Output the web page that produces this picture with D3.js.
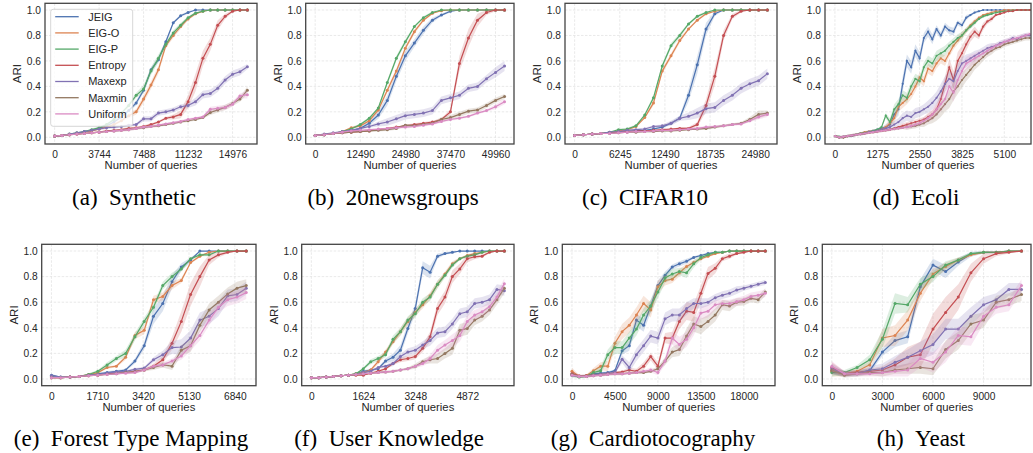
<!DOCTYPE html>
<html>
<head>
<meta charset="utf-8">
<script src="https://cdn.jsdelivr.net/npm/d3@7"></script>
<style>
  body { margin: 0; background: #fff; }
  svg { display: block; }
</style>
</head>
<body>
<svg id="fig" width="1033" height="453"></svg>
<script>
// ---- series shared by every panel ----
const seriesNames = ["JEIG", "EIG-O", "EIG-P", "Entropy", "Maxexp", "Maxmin", "Uniform"];
const seriesColors = ["#4C72B0", "#DD8452", "#55A868", "#C44E52", "#8172B3", "#937860", "#DA8BC3"];
const yTicks = [0, 0.2, 0.4, 0.6, 0.8, 1.0];

// ---- (a) Synthetic ----
const synthStep = 624;
const synthTicks = [0, 3744, 7488, 11232, 14976];
const synthMean = [
  [.01,.015,.02,.03,.045,.055,.07,.09,.12,.16,.21,.27,.37,.53,.61,.75,.90,.955,.98,1,1,1,1,1,1,1,1],
  [.01,.015,.02,.03,.04,.05,.065,.08,.10,.13,.17,.20,.30,.41,.53,.72,.80,.87,.93,.97,.99,1,1,1,1,1,1],
  [.01,.015,.025,.035,.045,.06,.075,.10,.14,.19,.25,.33,.38,.52,.62,.73,.82,.88,.94,.975,.99,1,1,1,1,1,1],
  [.01,.015,.02,.025,.03,.035,.04,.05,.055,.06,.07,.075,.085,.10,.12,.15,.16,.18,.28,.43,.62,.73,.88,.95,.99,1,1],
  [.01,.015,.025,.035,.045,.055,.065,.075,.08,.085,.095,.10,.145,.145,.19,.20,.215,.24,.25,.28,.335,.345,.385,.45,.495,.515,.555],
  [.01,.015,.02,.025,.03,.035,.04,.045,.05,.055,.06,.07,.075,.085,.09,.10,.11,.12,.13,.14,.155,.195,.215,.235,.265,.30,.37],
  [.01,.015,.02,.025,.03,.035,.04,.045,.05,.055,.06,.07,.08,.085,.095,.105,.115,.125,.14,.15,.16,.22,.228,.235,.26,.325,.335]
];
// confidence half-widths, in hundredths of ARI
const synthBand = [
  [0,0,0,0,0,1,1,1,1,1,1,2,2,2,2,2,1,1,1,0,0,0,0,0,0,0,0],
  [0,0,0,0,0,1,1,1,1,1,2,2,3,3,3,2,2,2,1,1,0,0,0,0,0,0,0],
  [0,0,0,0,0,1,1,1,1,1,2,2,3,3,3,2,2,2,1,1,0,0,0,0,0,0,0],
  [0,0,0,0,0,0,0,0,0,1,1,1,1,1,1,1,2,3,5,7,6,5,4,2,1,0,0],
  [0,0,0,0,0,0,1,1,1,1,1,1,2,2,2,2,2,2,2,3,3,3,3,3,3,3,2],
  [0,0,0,0,0,0,0,0,1,1,1,1,1,1,1,1,1,1,1,1,1,2,2,2,2,2,3],
  [0,0,0,0,0,0,0,0,1,1,1,1,1,1,1,1,1,1,1,1,1,2,2,2,2,2,3]
];

// ---- (b) 20newsgroups ----
const newsStep = 2498;
const newsTicks = [0, 12490, 24980, 37470, 49960];
const newsMean = [
  [.015,.02,.03,.04,.05,.07,.11,.175,.29,.48,.64,.74,.84,.92,.96,.99,1,1,1,1,1,1],
  [.015,.02,.03,.045,.075,.09,.13,.215,.37,.52,.70,.83,.92,.975,.995,1,1,1,1,1,1,1],
  [.015,.02,.03,.045,.065,.10,.15,.23,.43,.62,.75,.87,.94,.98,1,1,1,1,1,1,1,1],
  [.015,.02,.03,.035,.04,.045,.05,.06,.07,.08,.09,.10,.11,.12,.14,.20,.58,.78,.92,.98,1,1],
  [.015,.025,.035,.045,.055,.07,.085,.105,.12,.145,.17,.18,.19,.21,.29,.31,.33,.385,.40,.46,.51,.56],
  [.015,.02,.03,.035,.04,.045,.05,.055,.06,.07,.095,.09,.10,.11,.14,.155,.18,.205,.215,.25,.29,.32],
  [.015,.02,.03,.04,.05,.055,.06,.065,.07,.075,.08,.085,.095,.105,.125,.14,.15,.165,.19,.21,.24,.28]
];
const newsBand = [
  [0,0,0,0,1,1,2,3,4,4,4,3,3,2,1,1,0,0,0,0,0,0],
  [0,0,0,0,1,1,1,2,2,2,2,2,1,1,0,0,0,0,0,0,0,0],
  [0,0,0,0,1,1,1,1,2,2,2,1,1,1,0,0,0,0,0,0,0,0],
  [0,0,0,0,0,0,0,0,0,0,1,1,1,1,1,2,6,7,5,2,1,0],
  [0,0,0,0,0,1,1,2,3,3,3,3,3,3,3,3,3,3,3,3,4,4],
  [0,0,0,0,0,0,0,1,1,1,1,1,1,1,2,2,2,2,2,2,2,2],
  [0,0,0,0,0,0,0,0,1,1,1,1,1,1,1,1,1,1,1,1,2,2]
];

// ---- (c) CIFAR10 ----
const cifarStep = 1212;
const cifarTicks = [0, 6245, 12490, 18735, 24980];
const cifarMean = [
  [.015,.02,.025,.03,.035,.04,.045,.05,.055,.065,.08,.11,.15,.33,.57,.85,.97,1,1,1,1,1,1],
  [.015,.02,.025,.03,.035,.05,.06,.085,.155,.27,.52,.64,.76,.85,.92,.97,.99,1,1,1,1,1,1],
  [.015,.02,.025,.03,.04,.06,.065,.09,.175,.31,.56,.72,.80,.89,.95,.98,1,1,1,1,1,1,1],
  [.015,.02,.025,.03,.035,.04,.045,.05,.05,.055,.06,.065,.07,.07,.10,.25,.48,.80,.95,.99,1,1,1],
  [.015,.02,.025,.03,.04,.045,.055,.06,.065,.085,.09,.11,.15,.165,.19,.225,.235,.29,.33,.385,.42,.445,.50],
  [.015,.02,.025,.03,.03,.035,.04,.04,.045,.045,.05,.05,.055,.06,.065,.07,.08,.09,.10,.11,.14,.18,.19],
  [.015,.02,.025,.03,.03,.035,.04,.045,.045,.05,.055,.055,.06,.065,.07,.08,.085,.09,.10,.105,.13,.16,.18]
];
const cifarBand = [
  [0,0,0,0,0,0,0,0,0,1,1,1,2,5,7,5,2,0,0,0,0,0,0],
  [0,0,0,0,0,0,1,1,1,2,2,2,2,1,1,1,0,0,0,0,0,0,0],
  [0,0,0,0,0,0,1,1,1,2,2,2,2,1,1,1,0,0,0,0,0,0,0],
  [0,0,0,0,0,0,0,0,0,0,0,0,1,1,2,5,7,4,2,1,0,0,0],
  [0,0,0,0,0,0,1,1,1,1,1,2,2,3,4,4,4,4,4,4,4,4,4],
  [0,0,0,0,0,0,0,0,0,0,0,0,0,0,1,1,1,1,1,1,2,3,2],
  [0,0,0,0,0,0,0,0,0,0,0,0,0,1,1,1,1,1,1,1,1,2,2]
];

// ---- (d) Ecoli ----
const ecoliStep = 127.5;
const ecoliTicks = [0, 1275, 2550, 3825, 5100];
const ecoliMean = [
  [.01,0,0,.01,.01,.02,.03,.035,.045,.05,.06,.07,.08,.10,.18,.22,.42,.60,.55,.68,.62,.78,.83,.77,.85,.80,.87,.84,.83,.90,.88,.94,.96,.98,.99,1,1,1,1,1,1,1,1,1,1,1,1],
  [.01,0,0,.01,.015,.02,.03,.04,.045,.05,.055,.06,.08,.11,.15,.24,.27,.30,.34,.40,.47,.44,.54,.52,.58,.62,.60,.66,.72,.76,.80,.84,.88,.91,.94,.96,.97,.98,.99,.99,1,1,1,1,1,1,1],
  [.01,.005,0,.01,.015,.02,.03,.035,.04,.05,.06,.08,.17,.12,.22,.26,.33,.31,.40,.46,.44,.55,.60,.58,.64,.66,.68,.72,.75,.78,.80,.84,.87,.90,.93,.95,.96,.97,.98,.985,.99,.99,.995,1,1,1,1],
  [.01,0,0,.01,.015,.02,.025,.03,.035,.04,.045,.05,.055,.06,.07,.08,.09,.10,.11,.12,.13,.14,.16,.18,.22,.30,.42,.55,.45,.60,.66,.73,.79,.83,.80,.87,.91,.93,.96,.97,.98,.99,.99,1,1,1,1],
  [.01,0,.005,.01,.015,.02,.025,.03,.04,.045,.05,.06,.07,.08,.10,.12,.15,.17,.16,.19,.20,.22,.24,.27,.31,.36,.42,.46,.44,.52,.58,.60,.62,.64,.66,.68,.70,.71,.72,.74,.75,.76,.78,.77,.79,.80,.80],
  [.01,0,.005,.01,.015,.02,.025,.03,.035,.04,.045,.05,.055,.06,.065,.07,.075,.08,.085,.09,.10,.11,.13,.15,.18,.22,.26,.30,.36,.40,.45,.49,.53,.57,.60,.63,.66,.68,.70,.71,.73,.74,.75,.76,.77,.78,.78],
  [.01,0,.005,.01,.015,.02,.025,.03,.035,.04,.045,.05,.055,.06,.065,.07,.075,.08,.09,.10,.11,.13,.15,.18,.22,.26,.30,.40,.35,.45,.52,.58,.60,.62,.64,.66,.68,.70,.72,.73,.75,.76,.77,.78,.79,.80,.81]
];
const ecoliBand = [
  [1,1,1,1,1,1,1,1,1,1,1,1,2,3,4,5,6,5,5,5,5,4,4,4,3,3,3,3,3,2,2,2,1,1,1,0,0,0,0,0,0,0,0,0,0,0,0],
  [1,1,1,1,1,1,1,1,1,1,1,1,2,3,4,4,4,4,4,4,4,4,4,4,4,4,4,3,3,3,3,2,2,2,1,1,1,1,0,0,0,0,0,0,0,0,0],
  [1,1,1,1,1,1,1,1,1,1,1,1,2,3,4,4,4,4,4,4,4,4,4,4,4,4,4,3,3,3,3,2,2,2,1,1,1,1,0,0,0,0,0,0,0,0,0],
  [1,1,1,1,1,1,1,1,1,1,1,1,1,1,1,1,2,2,2,2,2,2,3,3,4,5,6,7,7,7,6,5,4,4,3,3,2,2,1,1,1,0,0,0,0,0,0],
  [1,1,1,1,1,1,1,1,1,1,1,1,1,2,3,3,4,4,4,4,4,4,5,5,5,6,6,6,6,6,5,5,4,4,3,3,3,3,2,2,2,2,2,2,2,2,2],
  [1,1,1,1,1,1,1,1,1,1,1,1,1,1,1,1,1,2,2,2,2,3,3,4,5,6,6,7,7,6,6,5,5,4,4,3,3,3,2,2,2,2,2,2,2,2,2],
  [1,1,1,1,1,1,1,1,1,1,1,1,1,1,1,1,1,2,2,2,2,3,3,4,5,6,6,7,7,6,6,5,5,4,4,3,3,3,2,2,2,2,2,2,2,2,2]
];

// ---- (e) Forest Type Mapping ----
const forestStep = 346;
const forestTicks = [0, 1710, 3420, 5130, 6840];
const forestMean = [
  [.03,.015,.015,.02,.03,.04,.05,.06,.07,.14,.26,.49,.59,.76,.875,.93,1,1,1,1,1,1],
  [.01,.01,.015,.02,.035,.05,.09,.10,.17,.34,.38,.62,.645,.73,.77,.91,.96,.99,1,1,1,1],
  [.02,.01,.015,.02,.035,.06,.11,.16,.20,.33,.45,.56,.73,.80,.86,.94,.97,.97,1,1,1,1],
  [.01,.01,.015,.02,.025,.03,.04,.045,.05,.06,.07,.10,.15,.28,.45,.66,.80,.93,.97,.99,1,1],
  [.025,.015,.015,.02,.03,.035,.045,.055,.06,.075,.085,.15,.19,.245,.25,.32,.46,.49,.55,.65,.66,.71],
  [.01,.01,.015,.02,.025,.03,.035,.04,.05,.055,.07,.09,.11,.10,.225,.26,.42,.54,.60,.665,.71,.73],
  [.01,.01,.015,.02,.025,.03,.035,.04,.045,.05,.07,.10,.11,.14,.18,.26,.34,.46,.56,.62,.64,.675]
];
const forestBand = [
  [1,0,0,0,0,1,1,1,1,2,3,6,6,5,3,2,0,0,0,0,0,0],
  [0,0,0,0,1,1,1,1,2,3,3,3,3,3,2,1,1,0,0,0,0,0],
  [0,0,0,0,1,1,2,2,3,3,3,3,3,3,2,1,1,1,0,0,0,0],
  [0,0,0,0,0,0,0,0,0,1,1,2,3,5,8,9,8,4,2,1,0,0],
  [1,0,0,0,0,0,1,1,1,1,1,2,3,5,6,6,6,6,6,5,5,5],
  [0,0,0,0,0,0,0,0,1,1,1,2,2,3,4,5,5,5,5,5,5,5],
  [0,0,0,0,0,0,0,0,1,1,1,1,2,2,3,4,4,4,4,5,5,5]
];

// ---- (f) User Knowledge ----
const knowStep = 232;
const knowTicks = [0, 1624, 3248, 4872];
const knowMean = [
  [.01,.01,.015,.02,.025,.03,.04,.06,.07,.08,.14,.17,.225,.395,.55,.87,.835,.96,.98,.99,1,1,1,1,1,1,1],
  [.01,.01,.015,.02,.025,.03,.04,.05,.07,.135,.21,.29,.37,.45,.52,.58,.65,.74,.82,.90,.94,.965,.98,.99,1,1,1],
  [.01,.01,.015,.02,.025,.03,.04,.08,.135,.16,.19,.31,.37,.46,.51,.60,.64,.74,.81,.89,.94,.96,.97,.99,1,1,1],
  [.01,.01,.015,.02,.025,.03,.03,.03,.045,.06,.08,.12,.15,.16,.175,.24,.33,.55,.64,.80,.86,.94,.955,.96,.99,1,1],
  [.01,.01,.015,.02,.025,.03,.035,.05,.06,.09,.10,.12,.175,.21,.225,.265,.30,.36,.37,.43,.51,.525,.59,.60,.62,.70,.69],
  [.01,.01,.015,.02,.025,.03,.035,.04,.045,.05,.055,.06,.07,.08,.10,.135,.15,.16,.20,.24,.38,.395,.46,.49,.54,.62,.71],
  [.01,.01,.015,.02,.025,.03,.035,.04,.045,.05,.055,.06,.07,.08,.10,.12,.16,.225,.265,.30,.34,.45,.50,.525,.565,.64,.745]
];
const knowBand = [
  [0,0,0,0,0,0,0,1,1,1,2,3,4,4,4,5,5,2,1,1,0,0,0,0,0,0,0],
  [0,0,0,0,0,0,0,1,1,2,2,2,3,3,3,3,3,3,2,2,1,1,1,0,0,0,0],
  [0,0,0,0,0,0,0,1,2,2,2,3,3,3,3,3,3,3,2,2,1,1,1,0,0,0,0],
  [0,0,0,0,0,0,0,0,1,1,1,1,2,2,2,3,4,5,5,5,4,3,2,1,1,0,0],
  [0,0,0,0,0,0,0,1,1,1,1,2,2,3,3,3,4,4,4,4,4,4,4,4,4,4,4],
  [0,0,0,0,0,0,0,0,0,1,1,1,1,1,2,2,3,4,4,5,5,5,4,4,4,4,4],
  [0,0,0,0,0,0,0,0,0,1,1,1,1,1,1,2,3,4,4,5,5,5,4,4,4,4,4]
];

// ---- (g) Cardiotocography ----
const cardioStep = 750;
const cardioTicks = [0, 4500, 9000, 13500, 18000];
const cardioMean = [
  [.04,.02,.025,.04,.045,.05,.065,.22,.26,.46,.42,.57,.73,.81,.875,.90,.92,.95,.965,.98,.99,.99,1,1,1,1,1,1],
  [.06,.02,.025,.065,.10,.10,.28,.37,.42,.50,.59,.54,.72,.77,.78,.83,.88,.91,.94,.96,.98,.99,1,1,1,1,1,1],
  [.03,.015,.02,.05,.065,.19,.245,.245,.32,.39,.50,.57,.68,.79,.82,.84,.83,.90,.95,.97,.99,.99,1,1,1,1,1,1],
  [.04,.025,.025,.03,.035,.04,.05,.055,.07,.06,.10,.175,.10,.32,.32,.45,.53,.52,.67,.825,.865,.94,.96,.98,.99,1,1,1],
  [.03,.02,.02,.03,.035,.04,.05,.155,.09,.19,.26,.335,.32,.47,.50,.50,.55,.59,.59,.60,.635,.655,.67,.695,.71,.725,.74,.755],
  [.035,.02,.02,.025,.03,.035,.04,.04,.045,.05,.05,.06,.08,.14,.21,.23,.335,.43,.41,.45,.50,.58,.57,.60,.605,.63,.62,.68],
  [.03,.02,.02,.025,.03,.035,.04,.04,.045,.05,.06,.07,.05,.14,.32,.27,.31,.40,.515,.53,.58,.59,.59,.605,.62,.645,.655,.67]
];
const cardioBand = [
  [2,1,1,1,1,1,1,3,4,5,5,5,4,3,2,2,2,1,1,1,0,0,0,0,0,0,0,0],
  [3,1,1,2,3,4,5,6,6,6,6,6,5,4,3,3,2,2,1,1,1,0,0,0,0,0,0,0],
  [2,1,1,2,3,4,5,5,5,5,5,5,5,4,4,3,4,3,2,1,1,0,0,0,0,0,0,0],
  [2,1,1,1,1,1,1,1,2,2,3,3,3,4,5,6,7,7,6,5,4,2,2,1,1,0,0,0],
  [1,1,1,1,1,1,1,3,4,5,5,5,5,5,5,5,5,4,4,3,3,3,3,3,2,2,2,2],
  [1,1,1,1,1,1,1,1,1,1,1,1,2,3,4,5,6,6,6,5,5,4,4,3,3,3,3,3],
  [1,1,1,1,1,1,1,1,1,1,1,2,2,3,5,6,6,6,5,5,4,3,3,3,3,3,3,3]
];

// ---- (h) Yeast ----
const yeastStep = 750;
const yeastTicks = [0, 3000, 6000, 9000];
const yeastMean = [
  [.065,.04,.05,.065,.21,.30,.33,.72,.89,.84,.915,.975,.99,.99,1,1],
  [.06,.04,.06,.11,.32,.34,.46,.67,.82,.88,.93,.97,.99,.99,1,1],
  [.05,.05,.09,.15,.31,.59,.58,.74,.80,.89,.93,.98,.99,.99,1,1],
  [.09,.04,.05,.06,.07,.11,.17,.19,.39,.52,.64,.83,.94,.98,.99,1],
  [.08,.04,.04,.07,.08,.13,.17,.22,.27,.39,.39,.49,.58,.62,.70,.70],
  [.07,.03,.04,.05,.05,.07,.08,.09,.08,.23,.30,.43,.46,.60,.62,.66],
  [.10,.04,.04,.04,.05,.06,.07,.16,.13,.21,.34,.33,.49,.56,.58,.73]
];
const yeastBand = [
  [3,2,2,2,3,5,5,6,5,5,3,2,1,1,0,0],
  [4,2,2,3,7,8,8,6,4,3,2,1,1,0,0,0],
  [3,2,2,4,7,8,6,5,4,3,2,1,1,0,0,0],
  [4,2,2,2,3,5,8,10,12,12,10,7,4,2,1,0],
  [4,2,2,3,4,5,6,7,8,8,8,7,6,5,5,5],
  [3,2,2,2,3,3,4,5,5,7,7,7,6,5,5,5],
  [4,2,2,2,3,4,5,7,8,8,7,7,6,5,5,5]
];

// ---- layout of the eight subplots ----
const panels = [
  { tag: "(a)", name: "Synthetic",          step: synthStep,  ticks: synthTicks,  mean: synthMean,  band: synthBand,  box: [45, 257, 3.3, 144],         cap: 134, legend: true },
  { tag: "(b)", name: "20newsgroups",       step: newsStep,   ticks: newsTicks,   mean: newsMean,   band: newsBand,   box: [305.7, 514, 3.3, 144],      cap: 393 },
  { tag: "(c)", name: "CIFAR10",            step: cifarStep,  ticks: cifarTicks,  mean: cifarMean,  band: cifarBand,  box: [565, 777, 3.3, 144],        cap: 645 },
  { tag: "(d)", name: "Ecoli",              step: ecoliStep,  ticks: ecoliTicks,  mean: ecoliMean,  band: ecoliBand,  box: [825, 1031, 3.3, 144],       cap: 916, pad: [0.051, 0.0066], dot: 1.1 },
  { tag: "(e)", name: "Forest Type Mapping", step: forestStep, ticks: forestTicks, mean: forestMean, band: forestBand, box: [41.7, 256, 244.3, 385.7],  cap: 131 },
  { tag: "(f)", name: "User Knowledge",     step: knowStep,   ticks: knowTicks,   mean: knowMean,   band: knowBand,   box: [301.7, 514, 244.3, 385.7],  cap: 389 },
  { tag: "(g)", name: "Cardiotocography",   step: cardioStep, ticks: cardioTicks, mean: cardioMean, band: cardioBand, box: [562.3, 775, 244.3, 385.7],  cap: 653 },
  { tag: "(h)", name: "Yeast",              step: yeastStep,  ticks: yeastTicks,  mean: yeastMean,  band: yeastBand,  box: [822.3, 1031, 244.3, 385.7], cap: 921 }
];

// sanity check of array lengths
panels.forEach(p => {
  const n = p.mean[0].length;
  p.mean.forEach((m, s) => { if (m.length !== n || p.band[s].length !== n) throw new Error(p.name + " series " + s + " length " + m.length + "/" + p.band[s].length + " vs " + n); });
});

const svg = d3.select("#fig");
svg.append("rect").attr("width", 1033).attr("height", 453).attr("fill", "#fff");

const sansFont = "'Liberation Sans', Arial, sans-serif";
const serifFont = "'Liberation Serif', 'Times New Roman', serif";
const textColor = "#262626";

function drawPanel(p) {
  const [L, R, T, B] = p.box;
  const pad = p.pad || [0.05, 0.05];
  const n = p.mean[0].length;
  const xs = d3.range(n).map(i => i * p.step);
  const xEnd = xs[n - 1];
  const x = d3.scaleLinear().domain([-pad[0] * xEnd, (1 + pad[1]) * xEnd]).range([L, R]);
  const y = d3.scaleLinear().domain([-0.0526, 1.0526]).range([B, T]);
  const g = svg.append("g");

  // grid
  g.append("g").selectAll("line").data(yTicks).join("line")
    .attr("x1", L).attr("x2", R).attr("y1", d => y(d)).attr("y2", d => y(d))
    .attr("stroke", "#e3e3e3").attr("stroke-width", 0.8).attr("stroke-dasharray", "2.5,1.5");
  g.append("g").selectAll("line").data(p.ticks).join("line")
    .attr("y1", T).attr("y2", B).attr("x1", d => x(d)).attr("x2", d => x(d))
    .attr("stroke", "#e3e3e3").attr("stroke-width", 0.8).attr("stroke-dasharray", "2.5,1.5");

  // series: band, line, markers
  const area = d3.area().x(d => x(d.x)).y0(d => y(d.lo)).y1(d => y(d.hi));
  const line = d3.line().x(d => x(d.x)).y(d => y(d.m));
  seriesNames.forEach((name, s) => {
    const pts = xs.map((xv, i) => {
      const m = p.mean[s][i], h = p.band[s][i] / 100;
      return { x: xv, m: m, lo: m - h, hi: Math.min(1, m + h) };
    });
    const col = seriesColors[s];
    g.append("path").datum(pts).attr("d", area).attr("fill", col).attr("fill-opacity", 0.2);
    g.append("path").datum(pts).attr("d", line).attr("fill", "none")
      .attr("stroke", col).attr("stroke-width", 1.2);
    g.append("g").selectAll("circle").data(pts).join("circle")
      .attr("cx", d => x(d.x)).attr("cy", d => y(d.m)).attr("r", p.dot || 1.5)
      .attr("fill", col);
  });

  // axes
  const xAxis = g.append("g").attr("transform", `translate(0,${B})`)
    .call(d3.axisBottom(x).tickValues(p.ticks).tickFormat(d3.format("d")).tickSize(0).tickPadding(7));
  const yAxis = g.append("g").attr("transform", `translate(${L},0)`)
    .call(d3.axisLeft(y).tickValues(yTicks).tickFormat(d3.format(".1f")).tickSize(0).tickPadding(4));
  [xAxis, yAxis].forEach(a => {
    a.select(".domain").remove();
    a.selectAll("text").attr("font-family", sansFont).attr("font-size", 10.2).attr("fill", textColor);
  });

  // frame
  g.append("rect").attr("x", L).attr("y", T).attr("width", R - L).attr("height", B - T)
    .attr("fill", "none").attr("stroke", "#444").attr("stroke-width", 1.3);

  // axis labels
  g.append("text").attr("x", (L + R) / 2).attr("y", B + 25).attr("text-anchor", "middle")
    .attr("font-family", sansFont).attr("font-size", 11.3).attr("fill", textColor).text("Number of queries");
  g.append("text").attr("transform", `translate(${L - 24},${(T + B) / 2}) rotate(-90)`)
    .attr("text-anchor", "middle").attr("font-family", sansFont).attr("font-size", 11.5)
    .attr("fill", textColor).text("ARI");

  // caption: tag, a wide space, then the dataset name
  svg.append("text").attr("x", p.cap).attr("y", B + 60.5).attr("text-anchor", "middle")
    .attr("font-family", serifFont).attr("font-size", 23).attr("fill", "#000")
    .text(p.tag + "\u2002" + p.name);

  // legend
  if (p.legend) {
    const lx = L + 5.7, ly = T + 6, lw = 82, lh = 117;
    const lg = g.append("g");
    lg.append("rect").attr("x", lx).attr("y", ly).attr("width", lw).attr("height", lh)
      .attr("rx", 2.5).attr("fill", "#fff").attr("fill-opacity", 0.8)
      .attr("stroke", "#cccccc").attr("stroke-width", 0.8);
    seriesNames.forEach((name, s) => {
      const yy = ly + 7.4 + s * 16.2;
      lg.append("line").attr("x1", lx + 4.5).attr("x2", lx + 28).attr("y1", yy).attr("y2", yy)
        .attr("stroke", seriesColors[s]).attr("stroke-width", 1.3);
      lg.append("text").attr("x", lx + 37.5).attr("y", yy).attr("dy", "0.35em")
        .attr("font-family", sansFont).attr("font-size", 11).attr("fill", textColor).text(name);
    });
  }
}

panels.forEach(drawPanel);
</script>
</body>
</html>
